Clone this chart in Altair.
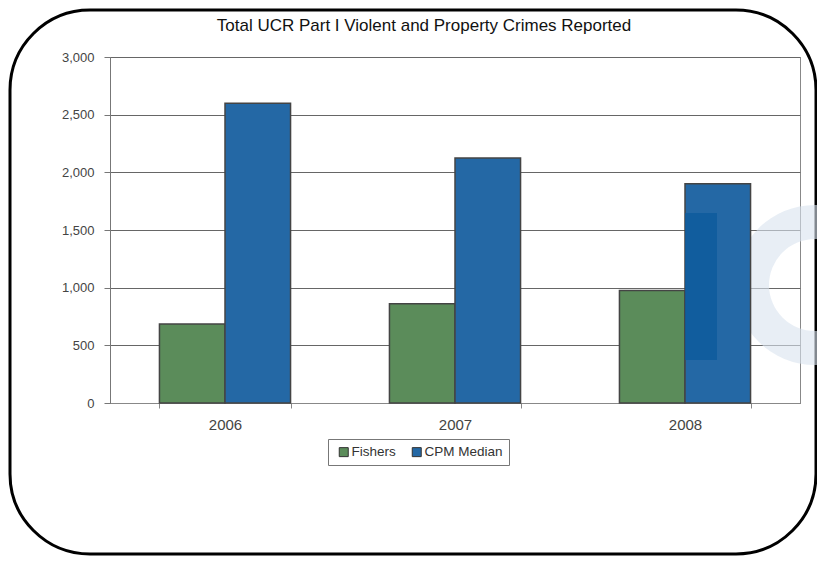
import altair as alt
import pandas as pd

years = ["2006", "2007", "2008"]
series_names = ["Fishers", "CPM Median"]
fishers = [685, 860, 975]
cpm_median = [2600, 2125, 1900]
colors = ["#5B8C5A", "#2468A5"]

rows = []
for i, y in enumerate(years):
    rows.append({"year": y, "series": "Fishers", "value": fishers[i]})
    rows.append({"year": y, "series": "CPM Median", "value": cpm_median[i]})
df = pd.DataFrame(rows)

FONT = "Liberation Sans"

bars = alt.Chart(df).mark_bar(stroke="#444444", strokeWidth=1.5).encode(
    x=alt.X("year:N", title=None,
            scale=alt.Scale(paddingInner=0.43, paddingOuter=0.215),
            axis=alt.Axis(labelAngle=0, tickBand="extent", labelPadding=9,
                          tickSize=5, domainColor="#888888", tickColor="#888888",
                          labelColor="#444444", labelFontSize=15, labelFont=FONT,
                          grid=False)),
    xOffset=alt.XOffset("series:N", sort=series_names),
    y=alt.Y("value:Q", title=None,
            scale=alt.Scale(domain=[0, 3000]),
            axis=alt.Axis(values=[0, 500, 1000, 1500, 2000, 2500, 3000], format=",d",
                          tickSize=6, domainColor="#777777", tickColor="#777777",
                          gridColor="#666666", gridWidth=1, labelPadding=10,
                          labelColor="#444444", labelFontSize=13, labelFont=FONT)),
    color=alt.Color("series:N", sort=series_names,
                    scale=alt.Scale(domain=series_names, range=colors),
                    legend=alt.Legend(title=None, orient="none", direction="horizontal",
                                      legendX=218, legendY=382, symbolType="square",
                                      symbolSize=81, symbolStrokeColor="#333333",
                                      symbolStrokeWidth=1, labelFont=FONT,
                                      labelFontSize=13.5, labelColor="#333333",
                                      strokeColor="#777777", padding=6,
                                      columnPadding=11, symbolOffset=3,
                                      labelOffset=1)),
)

ring = alt.Chart(pd.DataFrame({"a": [0]})).mark_arc(
    color="#D9E3EE", opacity=0.6
).encode(
    x=alt.value(705), y=alt.value(228), theta=alt.value(0), theta2=alt.value(6.2832),
    radius=alt.value(80), radius2=alt.value(46)
)

logo_bar = alt.Chart(pd.DataFrame({"a": [0]})).mark_rect(
    color="#0B5A9C", opacity=0.75
).encode(
    x=alt.value(575), x2=alt.value(607), y=alt.value(156), y2=alt.value(303)
)

frame = alt.Chart(pd.DataFrame({"a": [0]})).mark_rect(
    cornerRadius=80, stroke="black", strokeWidth=3, fillOpacity=0, color="white"
).encode(
    x=alt.value(-100), x2=alt.value(706), y=alt.value(-47), y2=alt.value(497)
)

chart = alt.layer(frame, ring, bars, logo_bar).properties(
    width=690, height=346,
    title=alt.Title("Total UCR Part I Violent and Property Crimes Reported",
                    font=FONT, fontSize=17, fontWeight="normal", color="#111111",
                    offset=-26, dx=-31, anchor="middle"),
    autosize=alt.AutoSizeParams(type="none"),
    padding={"left": 102, "top": 49, "right": 17, "bottom": 154},
    background="white",
).configure_view(stroke="#888888", strokeWidth=1)

chart.save("out.html", embed_options={"renderer": "svg", "actions": False})
